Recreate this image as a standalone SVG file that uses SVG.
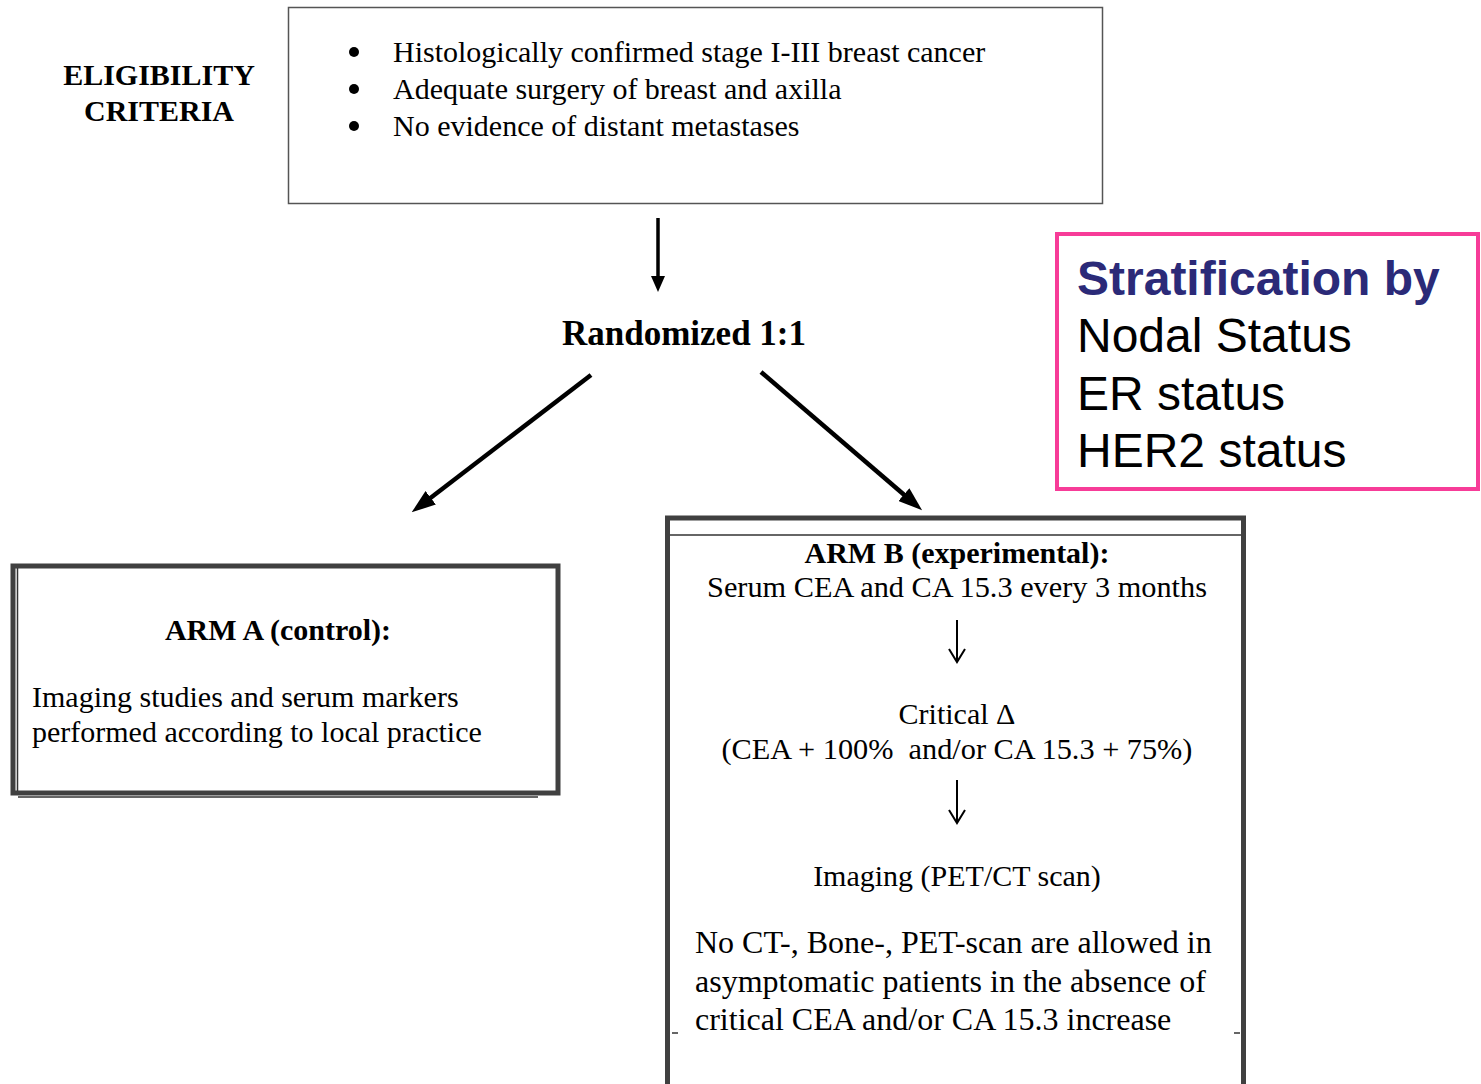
<svg xmlns="http://www.w3.org/2000/svg" width="1481" height="1084" viewBox="0 0 1481 1084">
<style>
.serif{font-family:"Liberation Serif","Times New Roman",serif;fill:#000}
.b{font-weight:bold}
.s30{font-size:30px}
.mid{text-anchor:middle}
.sans{font-family:"Liberation Sans",Arial,sans-serif;font-size:48px;fill:#000}
.thick{fill:none;stroke:#404040;stroke-width:5}
.thin{fill:none;stroke:#333;stroke-width:1.5}
.conn{stroke:#000;fill:none}
</style>
<defs>
<marker id="ah" markerUnits="userSpaceOnUse" markerWidth="24" markerHeight="17" viewBox="0 0 24 17" refX="16" refY="8.5" orient="auto">
<path d="M0,0 L24,8.5 L0,17 z" fill="#000"/>
</marker>
<marker id="ahs" markerUnits="userSpaceOnUse" markerWidth="16" markerHeight="14" viewBox="0 0 16 14" refX="11" refY="7" orient="auto">
<path d="M0,0 L16,7 L0,14 z" fill="#000"/>
</marker>
</defs>
<rect width="1481" height="1084" fill="#fff"/>

<g id="eligibility-label">
<text class="serif b s30 mid" x="159" y="85">ELIGIBILITY</text>
<text class="serif b s30 mid" x="159" y="121">CRITERIA</text>
</g>

<g id="eligibility-box">
<rect x="288.5" y="7.5" width="814" height="196" fill="#fff" stroke="#555" stroke-width="1.5"/>
<circle cx="354" cy="52" r="5" fill="#000"/>
<circle cx="354" cy="89" r="5" fill="#000"/>
<circle cx="354" cy="126" r="5" fill="#000"/>
<text class="serif s30" x="393" y="62">Histologically confirmed stage I-III breast cancer</text>
<text class="serif s30" x="393" y="99">Adequate surgery of breast and axilla</text>
<text class="serif s30" x="393" y="136">No evidence of distant metastases</text>
</g>

<g id="randomized">
<text class="serif b mid" x="684" y="345" font-size="35">Randomized 1:1</text>
</g>

<g id="stratification">
<rect x="1057" y="234" width="421" height="255" fill="#fff" stroke="#F73C98" stroke-width="4"/>
<text class="sans" x="1077" y="295" font-weight="bold" style="fill:#2B2A78">Stratification by</text>
<text class="sans" x="1077" y="352">Nodal Status</text>
<text class="sans" x="1077" y="410">ER status</text>
<text class="sans" x="1077" y="467">HER2 status</text>
</g>

<g id="arm-a">
<rect class="thick" x="13" y="566" width="545" height="227" fill="#fff"/>
<line class="thin" x1="17.5" y1="568" x2="17.5" y2="791"/>
<line class="thin" x1="18" y1="797" x2="538" y2="797"/>
<text class="serif b s30 mid" x="278" y="640">ARM A (control):</text>
<text class="serif s30" x="32" y="707">Imaging studies and serum markers</text>
<text class="serif s30" x="32" y="742">performed according to local practice</text>
</g>

<g id="arm-b">
<rect class="thick" x="667.5" y="518" width="576" height="620" fill="#fff"/>
<line class="thin" x1="670" y1="535" x2="1241" y2="535"/>
<line class="thin" x1="672" y1="1033" x2="678" y2="1033"/>
<line class="thin" x1="1234" y1="1033" x2="1240" y2="1033"/>
<text class="serif b s30 mid" x="957" y="563">ARM B (experimental):</text>
<text class="serif mid" x="957" y="597" font-size="30.3">Serum CEA and CA 15.3 every 3 months</text>
<line class="conn" x1="957" y1="620" x2="957" y2="661" stroke-width="2"/>
<polyline class="conn" points="949,649 957,662 965,649" stroke-width="2"/>
<text class="serif s30 mid" x="957" y="724">Critical Δ</text>
<text class="serif mid" x="957" y="759" font-size="30.3" xml:space="preserve">(CEA + 100%  and/or CA 15.3 + 75%)</text>
<line class="conn" x1="957" y1="780" x2="957" y2="822" stroke-width="2"/>
<polyline class="conn" points="949,810 957,823 965,810" stroke-width="2"/>
<text class="serif s30 mid" x="957" y="886">Imaging (PET/CT scan)</text>
<text class="serif" x="695" y="953" font-size="32">No CT-, Bone-, PET-scan are allowed in</text>
<text class="serif" x="695" y="992" font-size="32">asymptomatic patients in the absence of</text>
<text class="serif" x="695" y="1030" font-size="32">critical CEA and/or CA 15.3 increase</text>
</g>

<g id="connectors">
<line class="conn" x1="658" y1="218" x2="658" y2="287" stroke-width="3.5" marker-end="url(#ahs)"/>
<line class="conn" x1="591" y1="375" x2="418" y2="507.5" stroke-width="4.5" marker-end="url(#ah)"/>
<line class="conn" x1="761" y1="372" x2="916" y2="505" stroke-width="4.5" marker-end="url(#ah)"/>
</g>
</svg>
